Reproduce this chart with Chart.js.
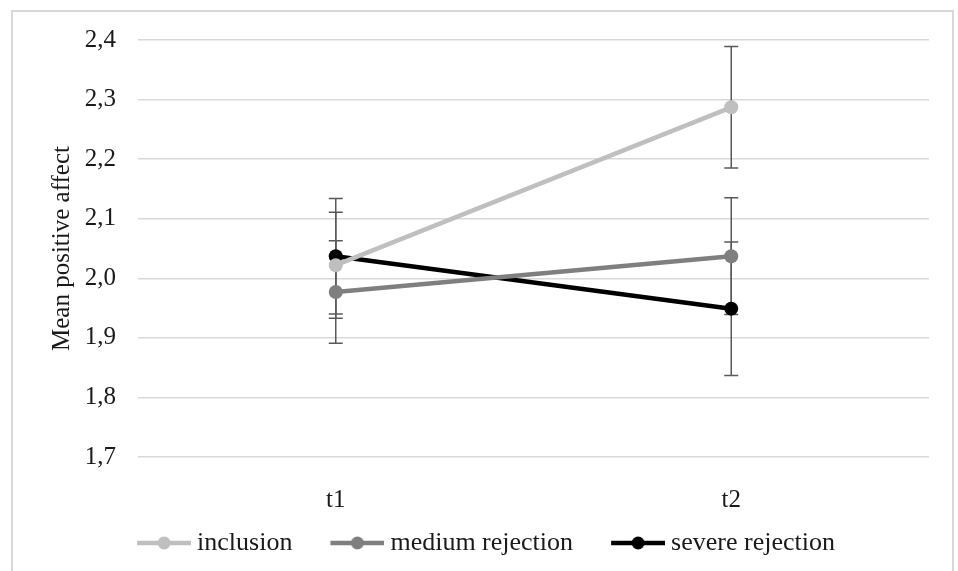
<!DOCTYPE html>
<html>
<head>
<meta charset="utf-8">
<script src="https://cdn.jsdelivr.net/npm/chart.js@4.4.0/dist/chart.umd.min.js"></script>
<style>
  html, body { margin: 0; padding: 0; background: #fff; }
  #wrap { position: relative; width: 958px; height: 571px; }
  #frame { position: absolute; left: 11px; top: 10px; width: 943px; height: 580px; border: 2px solid #d9d9d9; box-sizing: border-box; pointer-events: none; }
</style>
</head>
<body>
<div id="wrap">
  <canvas id="lineChart" width="958" height="571"></canvas>
  <div id="frame"></div>
</div>
<script>
const categories = ['t1', 't2'];
const seriesNames = ['inclusion', 'medium rejection', 'severe rejection'];
const inclusion = [2.022, 2.287];
const mediumRejection = [1.977, 2.037];
const severeRejection = [2.037, 1.949];
// standard errors
const inclusionErr = [0.089, 0.102];
const mediumErr = [0.086, 0.098];
const severeErr = [0.097, 0.112];
const yTicks = [1.7, 1.8, 1.9, 2.0, 2.1, 2.2, 2.3, 2.4];

const colors = ['#bfbfbf', '#7f7f7f', '#000000'];
const serif = "'Liberation Serif', 'Times New Roman', serif";

// line-with-dot swatch for the legend. The image is wider than the legend box
// and only its right part is painted, so the gap between items comes out wide
// while the swatch stays close to its text.
const swatch = (color) => {
    const c = document.createElement('canvas');
    c.width = 86; c.height = 16;
    const g = c.getContext('2d');
    g.strokeStyle = color;
    g.lineWidth = 4.5;
    g.beginPath(); g.moveTo(32, 8); g.lineTo(86, 8); g.stroke();
    g.fillStyle = color;
    g.beginPath(); g.arc(59, 8, 6.5, 0, Math.PI * 2); g.fill();
    return c;
};

const errors = [inclusionErr, mediumErr, severeErr];

const errorBars = {
    id: 'errorBars',
    beforeDatasetsDraw(chart) {
        const {ctx, scales: {x, y}} = chart;
        ctx.save();
        ctx.strokeStyle = '#595959';
        ctx.lineWidth = 1.5;
        chart.data.datasets.forEach((ds, i) => {
            ds.data.forEach((v, j) => {
                const px = x.getPixelForValue(j);
                const top = y.getPixelForValue(v + errors[i][j]);
                const bot = y.getPixelForValue(v - errors[i][j]);
                ctx.beginPath();
                ctx.moveTo(px, top); ctx.lineTo(px, bot);
                ctx.moveTo(px - 7, top); ctx.lineTo(px + 7, top);
                ctx.moveTo(px - 7, bot); ctx.lineTo(px + 7, bot);
                ctx.stroke();
            });
        });
        ctx.restore();
    }
};

const makeSet = (label, data, color) => ({
    label: label,
    data: data,
    borderColor: color,
    backgroundColor: color,
    borderWidth: 4.5,
    pointRadius: 7,
    pointHoverRadius: 7,
    pointBorderWidth: 0,
    tension: 0,
});

const ctx = document.getElementById('lineChart').getContext('2d');
new Chart(ctx, {
    type: 'line',
    data: {
        labels: categories,
        datasets: [
            makeSet(seriesNames[0], inclusion, colors[0]),
            makeSet(seriesNames[1], mediumRejection, colors[1]),
            makeSet(seriesNames[2], severeRejection, colors[2]),
        ]
    },
    plugins: [errorBars],
    options: {
        responsive: false,
        animation: false,
        layout: { padding: { top: 40, right: 29, left: 18, bottom: 5 } },
        scales: {
            x: {
                offset: true,
                grid: { display: false },
                border: { display: false },
                ticks: { color: '#1a1a1a', font: { family: serif, size: 25 }, padding: 20 },
                afterFit: (s) => { s.height = 60; }
            },
            y: {
                min: 1.7,
                max: 2.4,
                afterBuildTicks: (s) => { s.ticks = yTicks.map(v => ({ value: v })); },
                grid: { color: '#d9d9d9', lineWidth: 1.5, drawTicks: false },
                border: { display: false },
                ticks: {
                    color: '#1a1a1a',
                    padding: 22,
                    font: { family: serif, size: 25 },
                    callback: (v) => Number(v).toFixed(1).replace('.', ',')
                },
                title: {
                    display: true,
                    text: 'Mean positive affect',
                    color: '#1a1a1a',
                    font: { family: serif, size: 25 },
                    padding: { top: 29, bottom: 0 }
                },
                afterFit: (s) => { s.width = 120; }
            }
        },
        plugins: {
            legend: {
                position: 'bottom',
                labels: {
                    usePointStyle: true,
                    pointStyleWidth: 72,
                    padding: 13,
                    color: '#1a1a1a',
                    font: { family: serif, size: 26 },
                    generateLabels: (chart) => chart.data.datasets.map((ds, i) => ({
                        text: ds.label,
                        pointStyle: swatch(colors[i]),
                        fillStyle: colors[i],
                        strokeStyle: colors[i],
                        lineWidth: 0,
                        fontColor: '#1a1a1a',
                        datasetIndex: i,
                    }))
                }
            },
            tooltip: { enabled: false }
        }
    }
});
</script>
</body>
</html>
